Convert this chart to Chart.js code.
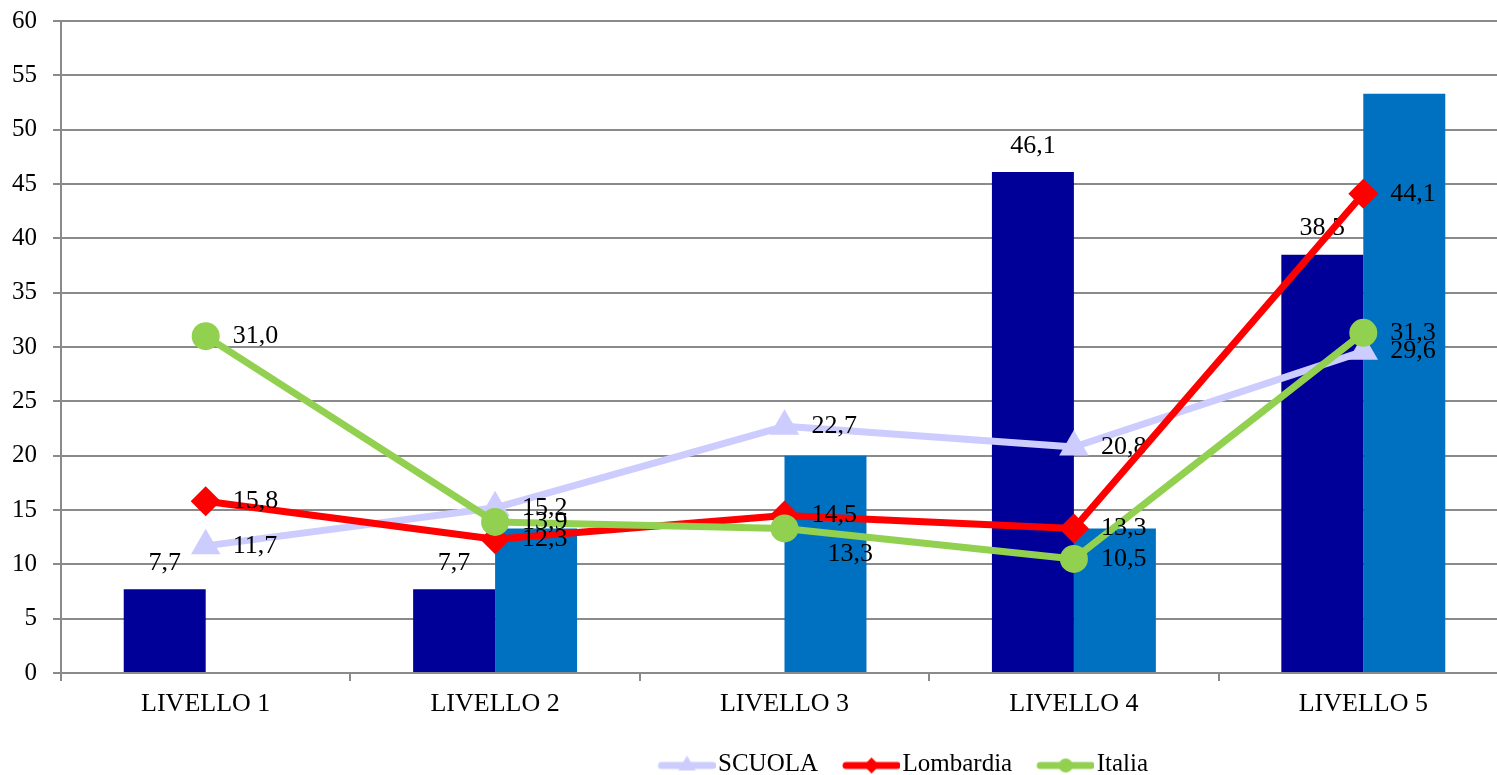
<!DOCTYPE html>
<html>
<head>
<meta charset="utf-8">
<script src="https://cdn.jsdelivr.net/npm/chart.js@4.4.1/dist/chart.umd.min.js"></script>
<style>
html,body{margin:0;padding:0;overflow:hidden;background:#fff;}
canvas{display:block;}
</style>
</head>
<body>
<canvas id="c" width="1525" height="775"></canvas>
<script>
// ---- data ----
const categories = ['LIVELLO 1', 'LIVELLO 2', 'LIVELLO 3', 'LIVELLO 4', 'LIVELLO 5'];
const barSeriesA = [7.7, 7.7, null, 46.1, 38.5];
const barSeriesB = [null, 13.3, 20.0, 13.3, 53.3];
const scuolaValues = [11.7, 15.2, 22.7, 20.8, 29.6];
const lombardiaValues = [15.8, 12.3, 14.5, 13.3, 44.1];
const italiaValues = [31.0, 13.9, 13.3, 10.5, 31.3];
const yTickValues = [0, 5, 10, 15, 20, 25, 30, 35, 40, 45, 50, 55, 60];

// ---- styles ----
const FONT = "'Liberation Serif', 'Times New Roman', serif";
const GRID = '#8a8a8a';
const C_NAVY = '#000099', C_BLUE = '#0070C0', C_SCUOLA = '#CCCCFF', C_LOMB = '#FF0000', C_ITA = '#92D050';

const fmt = v => v.toFixed(1).replace('.', ',');

// legend icon: line with marker (image drawn centred on the legend box)
function makeIcon(color, kind) {
  const c = document.createElement('canvas');
  c.width = 82; c.height = 30;
  const g = c.getContext('2d');
  const cy = 16;
  g.strokeStyle = color; g.lineWidth = 7; g.lineCap = 'round';
  g.beginPath(); g.moveTo(28, cy); g.lineTo(79, cy); g.stroke();
  g.fillStyle = color;
  const cx = 53.5;
  g.beginPath();
  if (kind === 'triangle') {
    const r = 10;
    g.moveTo(cx, cy - r); g.lineTo(cx + r * 0.866, cy + r / 2); g.lineTo(cx - r * 0.866, cy + r / 2);
  } else if (kind === 'diamond') {
    const r = 8;
    g.moveTo(cx - r, cy); g.lineTo(cx, cy - r); g.lineTo(cx + r, cy); g.lineTo(cx, cy + r);
  } else {
    g.arc(cx, cy, 7, 0, Math.PI * 2);
  }
  g.closePath(); g.fill();
  return c;
}

function drawLabels(chart, index) {
  const ds = chart.data.datasets[index];
  const cfg = ds.valueLabel;
  const meta = chart.getDatasetMeta(index);
  const ctx = chart.ctx;
  ctx.save();
  ctx.font = '26px ' + FONT;
  ctx.fillStyle = '#000';
  ctx.textBaseline = 'middle';
  meta.data.forEach((el, i) => {
    const v = ds.data[i];
    if (v === null || v === undefined) return;
    const s = (cfg.shift && cfg.shift[i]) || [0, 0];
    if (cfg.mode === 'above') {
      ctx.textAlign = 'center';
      ctx.fillText(fmt(v), el.x + s[0], el.y - 26 + s[1]);
    } else {
      ctx.textAlign = 'left';
      ctx.fillText(fmt(v), el.x + 27 + s[0], el.y + s[1]);
    }
  });
  ctx.restore();
}

const valueLabels = {
  id: 'valueLabels',
  afterDatasetDraw(chart, args) {
    const cfg = chart.data.datasets[args.index].valueLabel;
    if (cfg && !cfg.top) drawLabels(chart, args.index);
  },
  afterDatasetsDraw(chart) {
    chart.data.datasets.forEach((ds, i) => {
      if (ds.valueLabel && ds.valueLabel.top) drawLabels(chart, i);
    });
  }
};

const legendPlace = {
  id: 'legendPlace',
  afterLayout(chart) {
    const lg = chart.legend;
    if (!lg) return;
    const pad = lg.options.labels.padding;
    const h = lg.bottom - lg.top;
    lg.left = 643.5 - pad;
    lg.right = lg.left + 1000;
    lg.top = 752 - pad;
    lg.bottom = lg.top + h;
  }
};

function noScalePadding(scale) {
  scale.paddingTop = 0; scale.paddingBottom = 0;
  scale.paddingLeft = 0; scale.paddingRight = 0;
}

new Chart(document.getElementById('c'), {
  data: {
    labels: categories,
    datasets: [
      { type: 'bar', label: 'Serie A', data: barSeriesA, backgroundColor: C_NAVY, borderWidth: 0,
        categoryPercentage: 0.5665, barPercentage: 1, order: 4, valueLabel: { mode: 'above' } },
      { type: 'bar', label: 'Serie B', data: barSeriesB, backgroundColor: C_BLUE, borderWidth: 0,
        categoryPercentage: 0.5665, barPercentage: 1, order: 5 },
      { type: 'line', label: 'SCUOLA', data: scuolaValues, borderColor: C_SCUOLA, backgroundColor: C_SCUOLA,
        borderWidth: 7, pointStyle: 'triangle', pointRadius: 17, pointBorderWidth: 0,
        borderJoinStyle: 'round', order: 3, valueLabel: { mode: 'right' }, legendIcon: makeIcon(C_SCUOLA, 'triangle') },
      { type: 'line', label: 'Lombardia', data: lombardiaValues, borderColor: C_LOMB, backgroundColor: C_LOMB,
        borderWidth: 7, pointStyle: 'rectRot', pointRadius: 15, pointBorderWidth: 0,
        borderJoinStyle: 'round', order: 2, valueLabel: { mode: 'right', top: true }, legendIcon: makeIcon(C_LOMB, 'diamond') },
      { type: 'line', label: 'Italia', data: italiaValues, borderColor: C_ITA, backgroundColor: C_ITA,
        borderWidth: 7, pointStyle: 'circle', pointRadius: 14, pointBorderWidth: 0,
        borderJoinStyle: 'round', order: 1, valueLabel: { mode: 'right', top: true, shift: { 2: [16, 26] } },
        legendIcon: makeIcon(C_ITA, 'circle') }
    ]
  },
  options: {
    responsive: false,
    animation: false,
    devicePixelRatio: 1,
    layout: { padding: { top: 21, right: 0, bottom: 0, left: 0 } },
    scales: {
      x: {
        type: 'category',
        offset: true,
        grid: { offset: true, drawOnChartArea: false, drawTicks: true, tickLength: 8, color: GRID, lineWidth: 2 },
        border: { display: true, color: GRID, width: 2 },
        ticks: { font: { family: FONT, size: 26 }, color: '#000', padding: 8, maxRotation: 0 },
        afterFit(scale) { scale.height = 57; noScalePadding(scale); }
      },
      y: {
        min: 0, max: 60,
        grid: { color: GRID, lineWidth: 2, tickLength: 8, drawTicks: true },
        border: { display: true, color: GRID, width: 2 },
        ticks: { font: { family: FONT, size: 25 }, color: '#000', padding: 16 },
        afterBuildTicks(scale) { scale.ticks = yTickValues.map(v => ({ value: v })); },
        afterFit(scale) { scale.width = 61; noScalePadding(scale); }
      }
    },
    plugins: {
      tooltip: { enabled: false },
      legend: {
        position: 'bottom',
        align: 'start',
        labels: {
          font: { family: FONT, size: 25 },
          color: '#000',
          usePointStyle: true,
          pointStyleWidth: 62,
          padding: 10,
          filter: (item, data) => data.datasets[item.datasetIndex].type === 'line',
          sort: (a, b) => a.datasetIndex - b.datasetIndex,
          generateLabels(chart) {
            const items = Chart.defaults.plugins.legend.labels.generateLabels(chart);
            items.forEach(it => {
              const ds = chart.data.datasets[it.datasetIndex];
              if (ds.legendIcon) it.pointStyle = ds.legendIcon;
              it.fontColor = '#000';
            });
            return items;
          }
        }
      }
    }
  },
  plugins: [valueLabels, legendPlace]
});
</script>
</body>
</html>
